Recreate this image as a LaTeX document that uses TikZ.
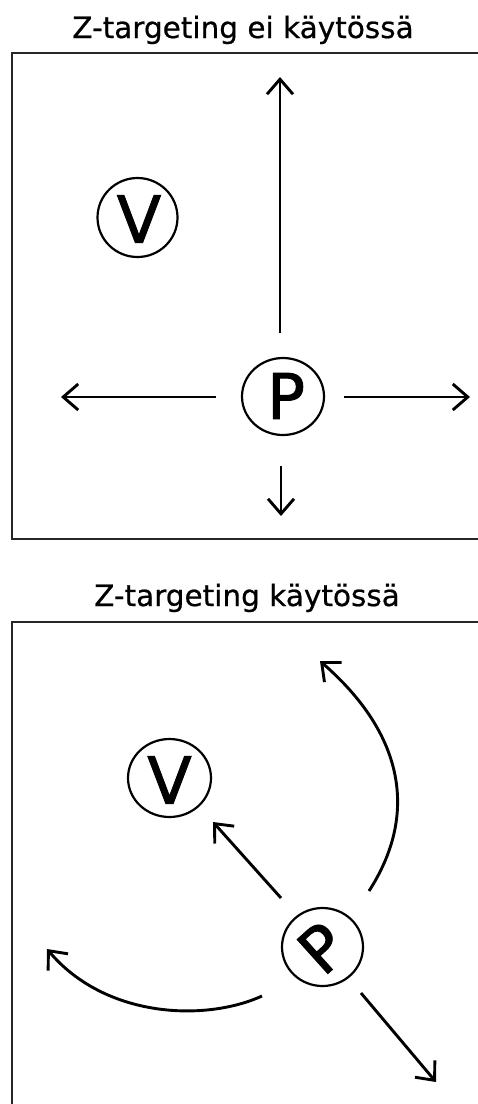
\documentclass[tikz,border=0pt]{standalone}
\usepackage{fontspec}
\setmainfont{DejaVu Sans}
\newfontfamily\glyphfont[FakeBold=1.4]{DejaVu Sans}
\newfontfamily\titlefont[FakeBold=0.6]{DejaVu Sans}
\usetikzlibrary{arrows.meta,shapes.geometric}
\begin{document}
\begin{tikzpicture}[x=1pt,y=-1pt,
  frame/.style={draw=black!85, line width=2.5pt},
  ring/.style={draw=black, line width=2.2pt, ellipse, inner sep=0pt},
  glyph/.style={inner sep=0pt, font=\glyphfont\fontsize{65}{65}\selectfont},
  title/.style={inner sep=0pt, anchor=base, font=\titlefont\fontsize{29.5}{30}\selectfont},
  arr/.style={line width=2.9pt, -{Straight Barb[length=15pt,width=26pt]}}]
\useasboundingbox (0,0) rectangle (477,1104);
% titles
\node[title] (t1) at (243,38) {Z-targeting ei käytössä};
\node[title] (t2) at (247,606) {Z-targeting käytössä};
% frames
\coordinate (f1a) at (480,53);
\coordinate (f1b) at (12,53);
\coordinate (f1c) at (12,539);
\coordinate (f1d) at (480,539);
\draw[frame] (f1a) -- (f1b) -- (f1c) -- (f1d);
\coordinate (f2a) at (480,622);
\coordinate (f2b) at (12,622);
\coordinate (f2c) at (12,1108);
\draw[frame] (f2a) -- (f2b) -- (f2c);
% top panel
\node[ring, minimum width=80pt, minimum height=79pt] (V1) at (137.5,217.5) {};
\node[glyph] (V1t) at (139,219) {V};
\node[ring, minimum width=82pt, minimum height=77pt] (P1) at (283,396.5) {};
\node[glyph, font=\glyphfont\fontsize{63}{63}\selectfont] (P1t) at (286,396) {P};
\coordinate (u0) at (280,333);
\coordinate (u1) at (280,77);
\coordinate (l0) at (216,397);
\coordinate (l1) at (61,397);
\coordinate (r0) at (344,397);
\coordinate (r1) at (470,397);
\coordinate (d0) at (281,466);
\coordinate (d1) at (281,516);
\draw[arr] (u0) -- (u1);
\draw[arr] (l0) -- (l1);
\draw[arr] (r0) -- (r1);
\draw[arr] (d0) -- (d1);
% bottom panel
\node[ring, minimum width=83pt, minimum height=78pt] (V2) at (169.5,778) {};
\node[glyph] (V2t) at (169.5,780) {V};
\node[ring, minimum width=81pt, minimum height=78pt] (P2) at (322.5,947) {};
\node[glyph, font=\glyphfont\fontsize{63}{63}\selectfont, rotate=42] (P2t) at (322,948) {P};
\coordinate (a0) at (281,898);
\coordinate (a1) at (213,822);
\coordinate (b0) at (361,993);
\coordinate (b1) at (436,1082);
\coordinate (c0) at (369,891);
\coordinate (c1) at (320,661);
\coordinate (e0) at (262,996);
\coordinate (e1) at (47,949);
\draw[arr] (a0) -- (a1);
\draw[arr] (b0) -- (b1);
\draw[arr] (c0) .. controls (418,815) and (405,735) .. (c1);
\draw[arr] (e0) .. controls (205,1022) and (105,1018) .. (e1);
\end{tikzpicture}
\end{document}
